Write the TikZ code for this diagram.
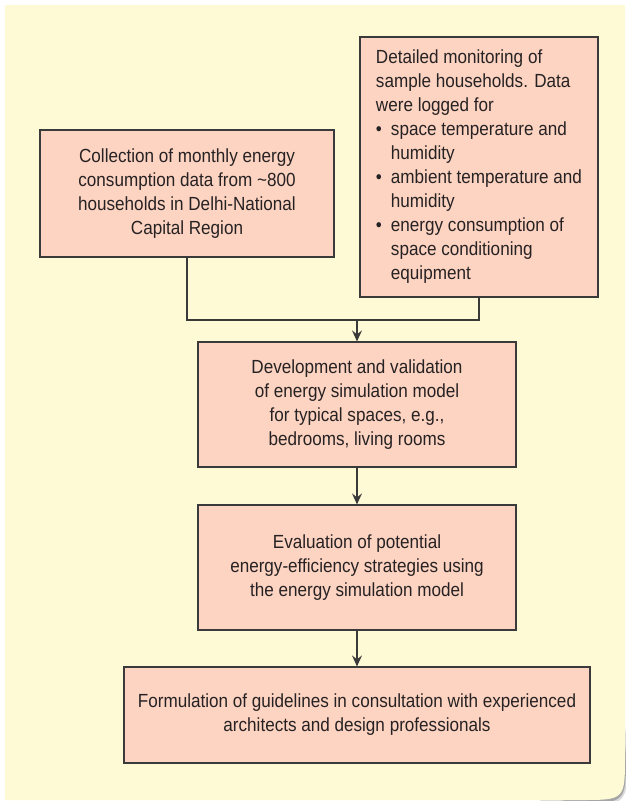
\documentclass[tikz,border=0pt]{standalone}
\usepackage{fontspec}
\setmainfont{Liberation Sans}[FakeStretch=0.9]
\usetikzlibrary{arrows.meta}
\definecolor{panel}{HTML}{FFFAD6}
\definecolor{boxfill}{HTML}{FDD3C1}
\definecolor{edge}{HTML}{3A3A3A}
\definecolor{ink}{HTML}{262223}
\newcommand{\bul}{\makebox[15pt][l]{\textbullet}}
\newcommand{\ind}{\hspace*{15pt}}

\begin{document}
\begin{tikzpicture}[x=1pt,y=-1pt,
    stage/.style={draw=edge,line width=1.2pt,fill=boxfill,text=ink,inner sep=3pt,
      align=center,font=\fontsize{19}{24}\selectfont},
    link/.style={draw=edge,line width=1.2pt},
    flow/.style={link,-{Stealth[length=11pt,width=10pt,inset=4pt]}}]
                \useasboundingbox (0,0) rectangle (626,801);
                \fill[white] (0,0) rectangle (626,801);
                % shadow only round the lower right corner
                \fill[black!15] (624,720) -- (628,750) .. controls (628,806) .. (572,806) -- (540,801) -- cycle;
                \fill[black!35] (624,730) -- (626,755) .. controls (626,803) .. (578,803) -- (560,800) -- cycle;
                \fill[panel] (5,5) -- (625,5) -- (625,755) .. controls (625,800) .. (580,800) -- (5,800) -- cycle;
                \node[stage,minimum width=294pt,minimum height=127pt] (collect) at (187,193.5)
                    {Collection of monthly energy\\consumption data from \textasciitilde800\\households in Delhi-National\\Capital Region};
                \node[stage,align=left,minimum width=238pt,minimum height=260pt] (monitor) at (479,167)
                    {Detailed monitoring of\\sample households. Data\\were logged for\\
                     \bul space temperature and\\\ind humidity\\
                     \bul ambient temperature and\\\ind humidity\\
                     \bul energy consumption of\\\ind space conditioning\\\ind equipment};
                \node[stage,minimum width=318pt,minimum height=125pt] (model) at (357,404.5)
                    {Development and validation\\of energy simulation model\\for typical spaces, e.g.,\\bedrooms, living rooms};
                \node[stage,minimum width=318pt,minimum height=125pt] (evaluate) at (357,567.5)
                    {Evaluation of potential\\energy-efficiency strategies using\\the energy simulation model};
                \node[stage,minimum width=466pt,minimum height=96pt] (guide) at (357,715)
                    {Formulation of guidelines in consultation with experienced\\architects and design professionals};
                \coordinate (join) at (357,320);
                \draw[link] (collect.south) |- (join) -| (monitor.south);
                \draw[flow] (join) -- (model.north);
                \draw[flow] (model) -- (evaluate);
                \draw[flow] (evaluate) -- (guide);
            \end{tikzpicture}
\end{document}
